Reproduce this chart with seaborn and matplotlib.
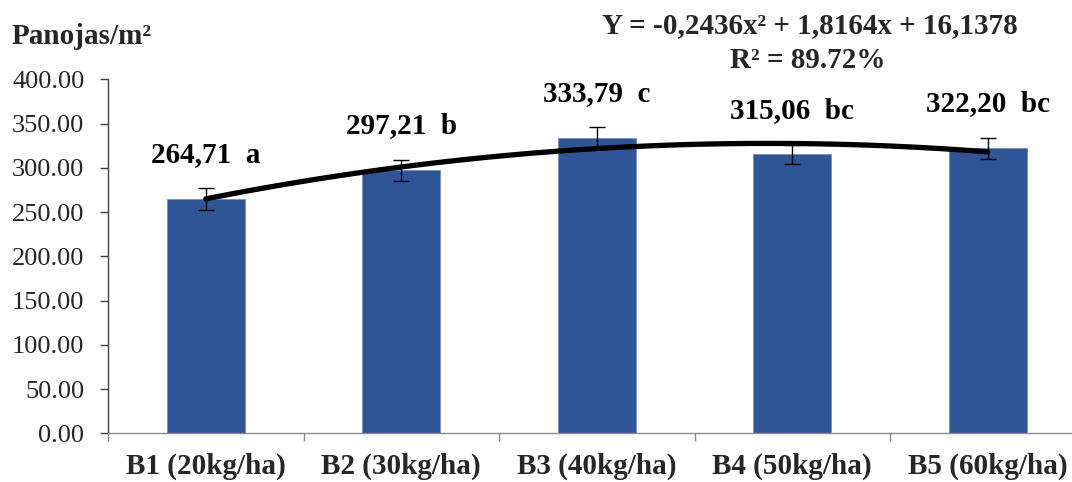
import numpy as np
import pandas as pd
import matplotlib
matplotlib.use("Agg")
import matplotlib.pyplot as plt
import seaborn as sns

# Panicles per square metre under five seeding rates
categories = ["B1 (20kg/ha)", "B2 (30kg/ha)", "B3 (40kg/ha)", "B4 (50kg/ha)", "B5 (60kg/ha)"]
panicles = [264.71, 297.21, 333.79, 315.06, 322.20]
errors = [12.0, 11.7, 12.0, 11.0, 12.0]
letters = ["a", "b", "c", "bc", "bc"]
y_ticks = [0, 50, 100, 150, 200, 250, 300, 350, 400]

sns.set_style("ticks")
plt.rcParams["font.family"] = ["Liberation Serif", "DejaVu Serif"]

BAR_COLOR = "#2F5597"
W, H = 1072, 482

fig = plt.figure(figsize=(W / 100, H / 100), dpi=100)
ax = fig.add_axes([108 / W, 48.7 / H, 977.5 / W, 354 / H])

df = pd.DataFrame({"trat": categories, "pan": panicles})
sns.barplot(data=df, x="trat", y="pan", color=BAR_COLOR, width=0.4,
            saturation=1, edgecolor="#6f8fc4", linewidth=0.6, ax=ax, zorder=2)

xpos = np.arange(len(categories))
ax.errorbar(xpos, panicles, yerr=errors, fmt="none", ecolor="black",
            elinewidth=1.0, capsize=6, capthick=1.0, zorder=3)

# Quadratic trend through the treatment means
sns.regplot(x=xpos.astype(float), y=np.array(panicles), order=2, ci=None,
            scatter=False, truncate=True, ax=ax,
            line_kws=dict(color="black", lw=3.8, solid_capstyle="round", zorder=4))

for x, v, l in zip(xpos, panicles, letters):
    txt = f"{v:.2f}".replace(".", ",") + "  " + l
    ax.text(x, v + 50, txt, ha="center", va="center", fontsize=21,
            fontweight="bold", color="black")

ax.set_xlim(-0.5, len(categories) - 0.5)
ax.set_ylim(0, 400)
ax.set_yticks(y_ticks)
ax.set_yticklabels([f"{t:.2f}" for t in y_ticks], fontsize=19)
ax.set_xticks(xpos)
ax.set_xticklabels(categories, fontsize=21, fontweight="bold")
ax.set_xticks(np.arange(-0.5, len(categories)), minor=True)
ax.tick_params(axis="x", which="major", length=0, pad=14)
ax.tick_params(axis="x", which="minor", length=6, width=1, color="#8c8c8c", direction="out")
ax.tick_params(axis="y", length=6, width=1, color="#404040", pad=11, direction="out")
ax.set_xlabel("")
ax.set_ylabel("")

for s in ["top", "right"]:
    ax.spines[s].set_visible(False)
ax.spines["left"].set_color("#404040")
ax.spines["left"].set_linewidth(1.0)
ax.spines["bottom"].set_color("#8c8c8c")
ax.spines["bottom"].set_linewidth(1.0)

fig.text(12 / W, 1 - 36 / H, "Panojas/m²", fontsize=21, fontweight="bold",
         ha="left", va="center")
fig.text(810 / W, 1 - 26 / H, "Y = -0,2436x² + 1,8164x + 16,1378", fontsize=21,
         fontweight="bold", ha="center", va="center")
fig.text(808 / W, 1 - 61 / H, "R² = 89.72%", fontsize=21, fontweight="bold",
         ha="center", va="center")

fig.savefig("out.png", dpi=100)
